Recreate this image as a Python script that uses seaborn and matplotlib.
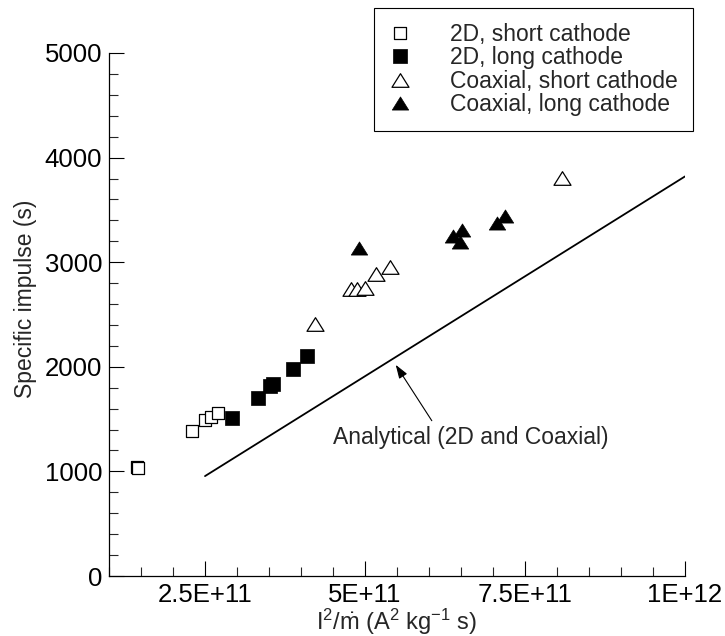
import numpy as np
import seaborn as sns
import matplotlib
matplotlib.use("Agg")
import matplotlib.pyplot as plt
from matplotlib.path import Path
from matplotlib.ticker import MultipleLocator, FixedLocator, FixedFormatter

# ---------------------------------------------------------
# Data
# ---------------------------------------------------------
short_2d_x = [1.44e11, 1.46e11, 2.30e11, 2.50e11, 2.59e11, 2.71e11]
short_2d_y = [1045, 1035, 1391, 1493, 1519, 1563]

long_2d_x = [2.92e11, 3.33e11, 3.52e11, 3.57e11, 3.87e11, 4.09e11]
long_2d_y = [1509, 1706, 1812, 1837, 1981, 2105]

short_coax_x = [4.22e11, 4.78e11, 4.88e11, 5.00e11, 5.17e11, 5.39e11, 8.08e11]
short_coax_y = [2411, 2740, 2740, 2758, 2884, 2957, 3806]

long_coax_x = [4.90e11, 6.38e11, 6.48e11, 6.51e11, 7.06e11, 7.19e11]
long_coax_y = [3136, 3251, 3196, 3310, 3378, 3439]

analytical_x = [2.5e11, 1.0e12]
analytical_y = [955, 3820]

xticks = [2.5e11, 5e11, 7.5e11, 1e12]
xtick_labels = ["2.5E+11", "5E+11", "7.5E+11", "1E+12"]
yticks = [0, 1000, 2000, 3000, 4000, 5000]

# ---------------------------------------------------------
# Style
# ---------------------------------------------------------
sns.set_style("ticks", {"xtick.direction": "in", "ytick.direction": "in"})
plt.rcParams["font.family"] = ["Liberation Sans", "DejaVu Sans"]
plt.rcParams["mathtext.fontset"] = "custom"
plt.rcParams["mathtext.rm"] = "Liberation Sans"
plt.rcParams["mathtext.it"] = "Liberation Sans"
plt.rcParams["axes.edgecolor"] = "black"
plt.rcParams["axes.linewidth"] = 0.9

# slightly flattened, closed triangle, like the original plotting package
tri = Path([(0, 0.8), (-1, -0.8), (1, -0.8), (0, 0.8)], closed=True)

fig = plt.figure(figsize=(7.25, 6.36), dpi=100)
ax = fig.add_axes([109 / 725, 60 / 636, 576 / 725, 523 / 636])

sns.scatterplot(x=short_2d_x, y=short_2d_y, ax=ax, marker="s", s=85,
                color="black", facecolor="white", edgecolor="black",
                linewidth=0.9, label="2D, short cathode", zorder=3)
sns.scatterplot(x=long_2d_x, y=long_2d_y, ax=ax, marker="s", s=88,
                color="black", facecolor="black", edgecolor="black",
                linewidth=0.5, label="2D, long cathode", zorder=3)
sns.scatterplot(x=short_coax_x, y=short_coax_y, ax=ax, marker=tri, s=150,
                color="black", facecolor="white", edgecolor="black",
                linewidth=0.9, label="Coaxial, short cathode", zorder=3)
sns.scatterplot(x=long_coax_x, y=long_coax_y, ax=ax, marker=tri, s=140,
                color="black", facecolor="black", edgecolor="black",
                linewidth=0.5, label="Coaxial, long cathode", zorder=3)

sns.lineplot(x=analytical_x, y=analytical_y, ax=ax, color="black", lw=1.3)

ax.annotate("Analytical (2D and Coaxial)", xy=(5.48e11, 2019),
            xytext=(6.66e11, 1321), ha="center", va="center", fontsize=16.5,
            arrowprops=dict(arrowstyle="-|>,head_length=0.5,head_width=0.17",
                            color="black", lw=0.8, relpos=(0.37, 1.0),
                            shrinkA=2, shrinkB=0))

# ---------------------------------------------------------
# Axes
# ---------------------------------------------------------
ax.set_xlim(1e11, 1e12)
ax.set_ylim(0, 5000)
ax.xaxis.set_major_locator(FixedLocator(xticks))
ax.xaxis.set_major_formatter(FixedFormatter(xtick_labels))
ax.xaxis.set_minor_locator(MultipleLocator(5e10))
ax.yaxis.set_major_locator(FixedLocator(yticks))
ax.yaxis.set_minor_locator(MultipleLocator(200))
ax.tick_params(which="major", length=10.5, width=0.8, labelsize=18.5, pad=5,
               colors="black")
ax.tick_params(which="minor", length=6.5, width=0.8)
sns.despine(ax=ax)

ax.set_xlabel(r"$\mathregular{I^2/\dot{m}\ (A^2\ kg^{-1}\ s)}$", fontsize=17)
ax.set_ylabel("Specific impulse (s)", fontsize=16.5)
ax.xaxis.set_label_coords(0.5, -0.058)
ax.yaxis.set_label_coords(-0.125, 0.53)

leg = ax.legend(loc="upper right", bbox_to_anchor=(693 / 725, 1 - 8 / 636),
                bbox_transform=fig.transFigure, borderaxespad=0, frameon=True,
                fancybox=False, edgecolor="black", framealpha=1, fontsize=16.5,
                handlelength=1.0, handletextpad=1.7, borderpad=0.65,
                labelspacing=0.02, scatteryoffsets=[0.5])
leg.get_frame().set_linewidth(0.8)

fig.savefig("out.png", dpi=100)
